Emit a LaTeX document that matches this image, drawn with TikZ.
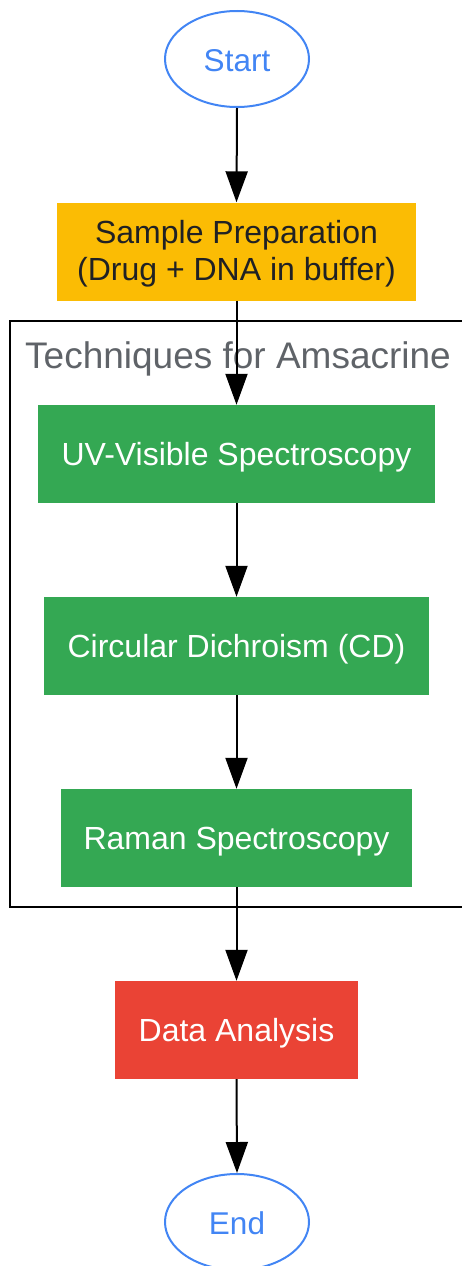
\documentclass[tikz,border=0pt]{standalone}
\usepackage{fontspec}
\setmainfont{Liberation Sans}
\usetikzlibrary{arrows.meta,shapes.geometric}
\definecolor{gblue}{HTML}{4285F4}
\definecolor{gyellow}{HTML}{FBBC04}
\definecolor{ggreen}{HTML}{34A853}
\definecolor{gred}{HTML}{EA4335}
\definecolor{gtext}{HTML}{202124}
\definecolor{ggray}{HTML}{5F6368}
\tikzset{
  term/.style={ellipse, draw=gblue, line width=2pt, text=gblue, minimum width=144pt, minimum height=96pt, inner sep=0pt, text height=24pt, text depth=0pt, font=\fontsize{31.5}{37}\selectfont},
  box/.style={rectangle, inner sep=0pt, minimum height=98pt, align=center, font=\fontsize{32}{37}\selectfont},
  one/.style={text height=29pt, text depth=7pt},
  prep/.style={box, fill=gyellow, text=gtext},
  tech/.style={box, one, fill=ggreen, text=white},
  ana/.style={box, one, fill=gred, text=white},
  flow/.style={line width=2pt, -{Triangle[width=22pt,length=31pt]}},
  clusterbox/.style={draw=black, line width=2pt}
}
\begin{document}
\begin{tikzpicture}[x=1pt,y=-1pt]
\useasboundingbox (0,0) rectangle (462,1266);
\node[clusterbox, rectangle, minimum width=462pt, minimum height=586pt, inner sep=0pt] (cluster) at (241,614) {};
\node[text=ggray, font=\fontsize{37}{42}\selectfont] (ctitle) at (238,358.5) {Techniques for Amsacrine};
\node[term] (start) at (237,59) {Start};
\node[prep, minimum width=359pt] (prep) at (236.5,251.5) {\rule{0pt}{27pt}Sample Preparation\\(Drug + DNA in buffer)};
\node[tech, minimum width=397pt] (uv) at (236.5,454) {UV-Visible Spectroscopy};
\node[tech, minimum width=385pt] (cd) at (236.5,646) {Circular Dichroism (CD)};
\node[tech, minimum width=351pt] (raman) at (236.5,838) {Raman Spectroscopy};
\node[ana, minimum width=243pt] (data) at (236.5,1030) {Data Analysis};
\node[term] (end) at (237,1222) {End};
\draw[flow] (start.south) -- (prep.north);
\draw[flow] (prep.south) -- (uv.north);
\draw[flow] (uv.south) -- (cd.north);
\draw[flow] (cd.south) -- (raman.north);
\draw[flow] (raman.south) -- (data.north);
\draw[flow] (data.south) -- (end.north);
\end{tikzpicture}
\end{document}
